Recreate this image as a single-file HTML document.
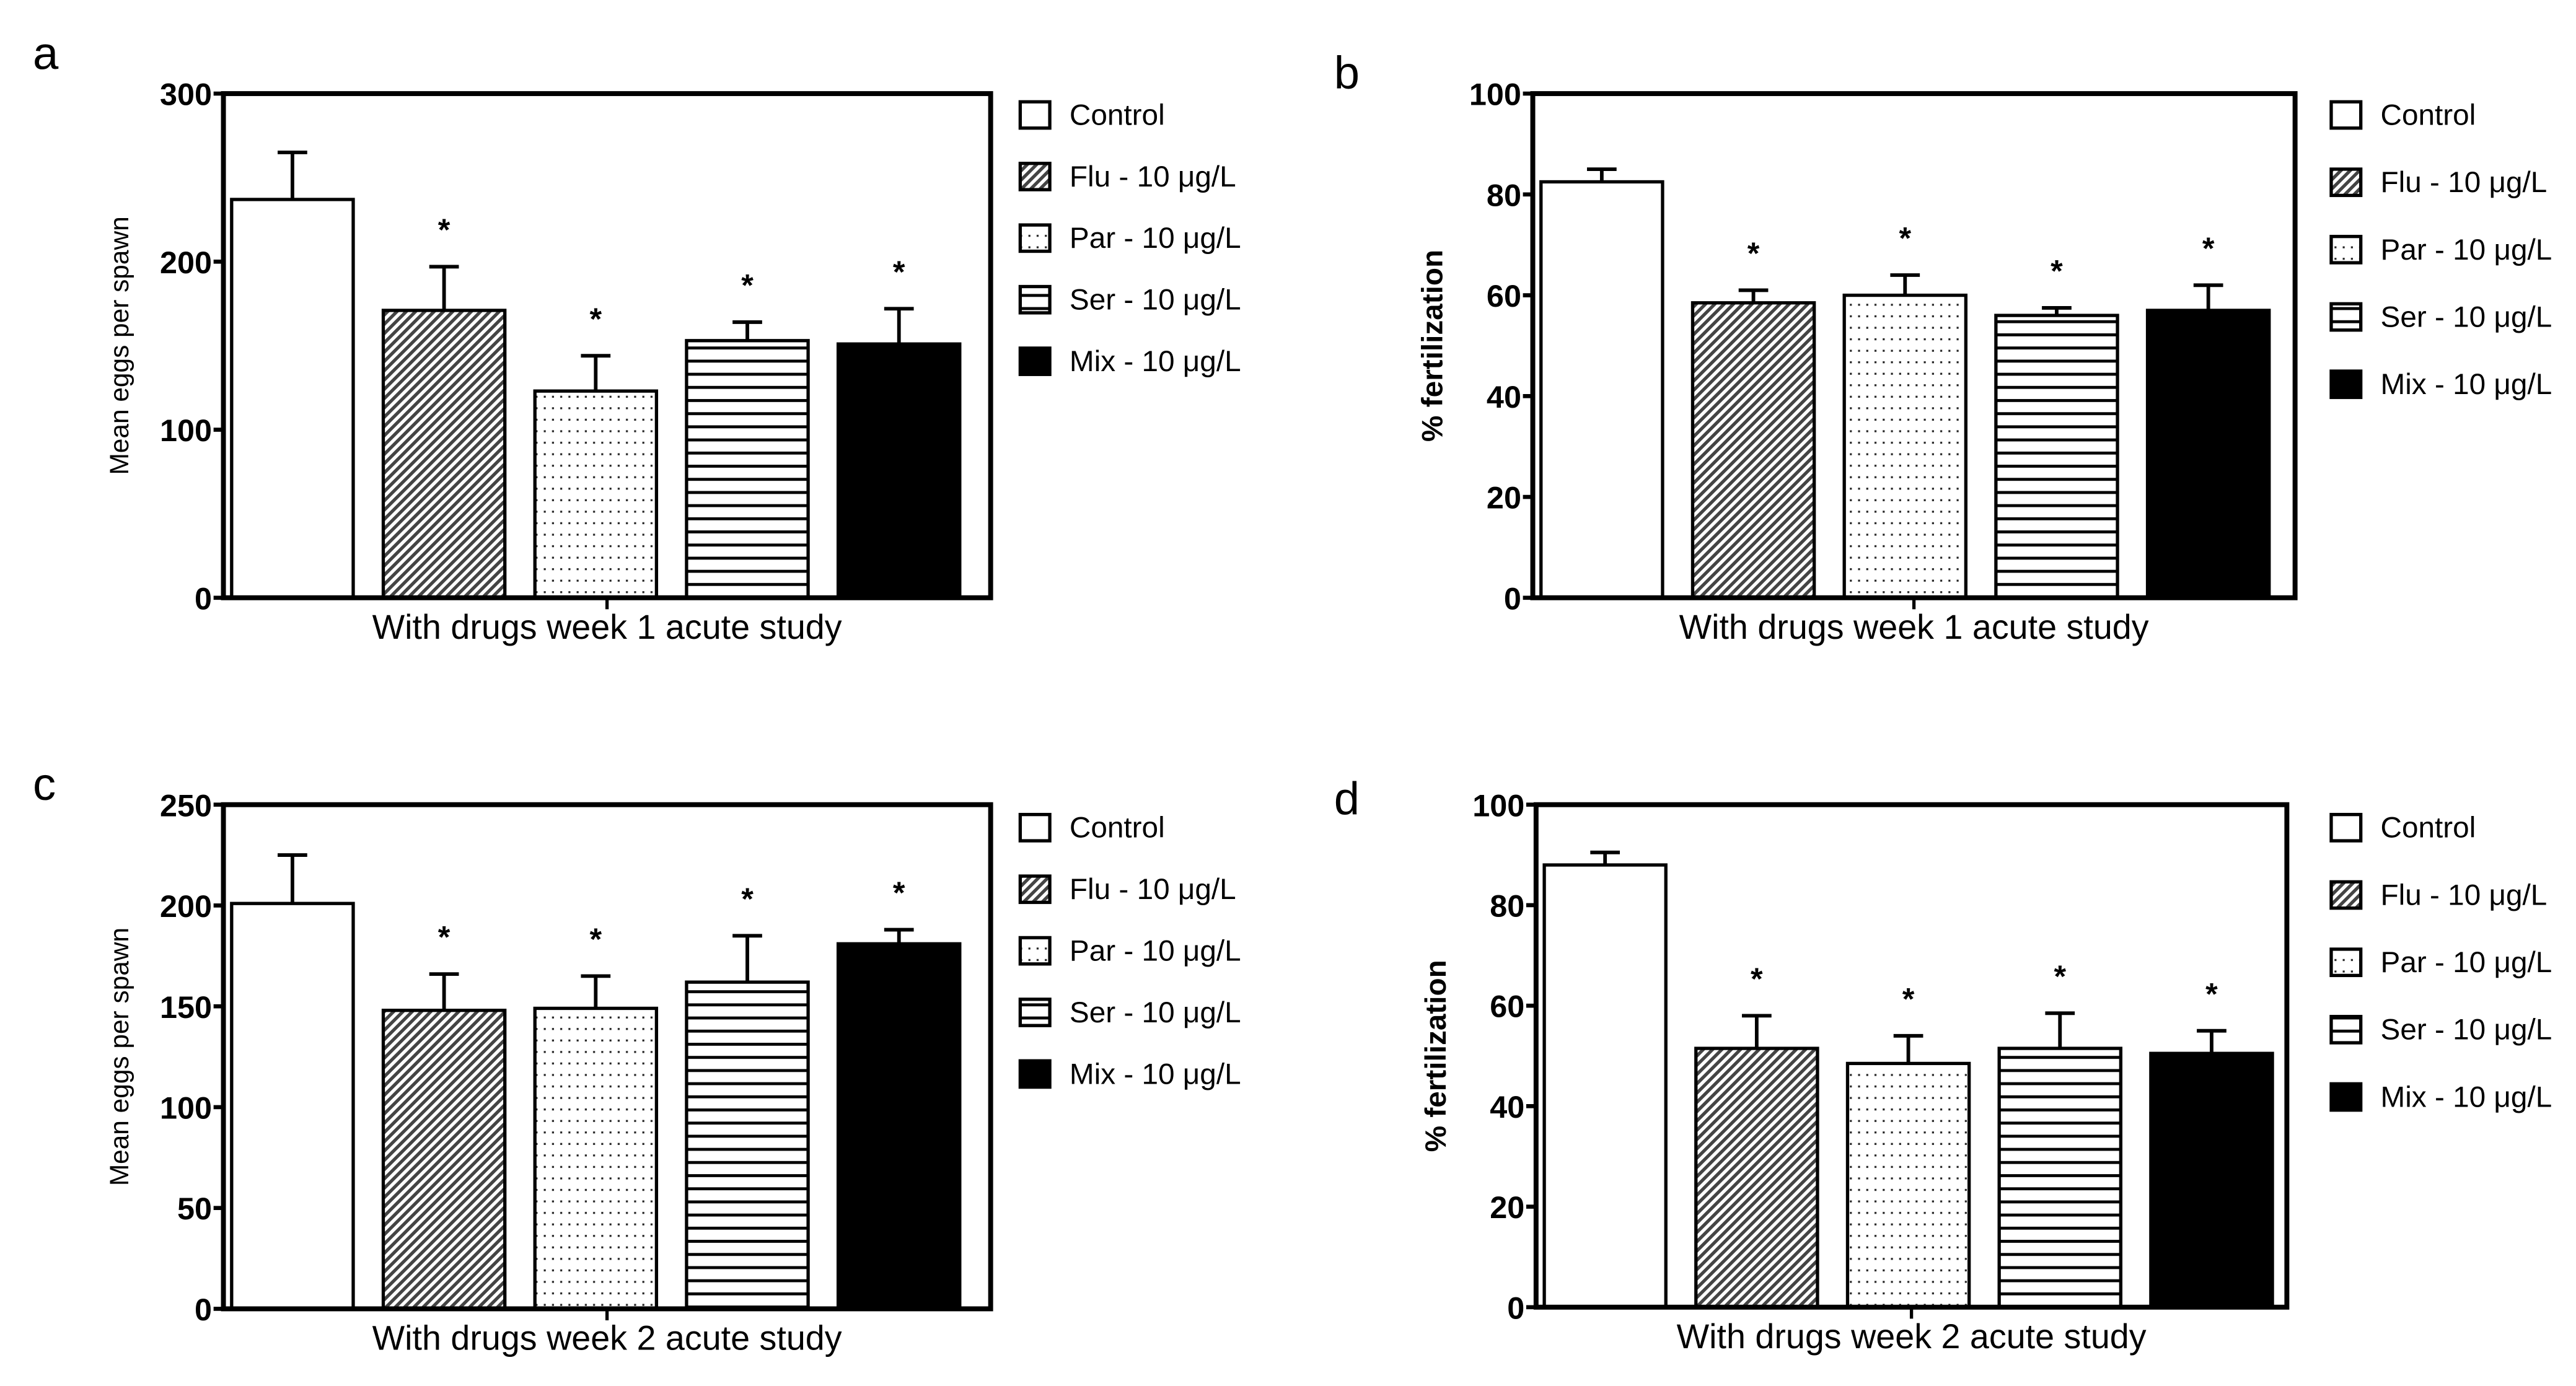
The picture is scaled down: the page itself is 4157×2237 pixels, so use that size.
<!DOCTYPE html>
<html><head><meta charset="utf-8"><style>
html,body{margin:0;padding:0;background:#fff;}
svg{display:block;}
.tick{font-family:"Liberation Sans Narrow","Liberation Sans",sans-serif;font-weight:bold;font-size:19px;}
.leg{font-family:"Liberation Sans",sans-serif;font-size:18px;}
.xl{font-family:"Liberation Sans",sans-serif;font-size:21px;}
.pl{font-family:"Liberation Sans",sans-serif;font-size:28px;}
</style></head><body>
<svg id="fig" width="4157" height="2237" viewBox="0 0 1568 844" preserveAspectRatio="none" xmlns="http://www.w3.org/2000/svg">
<defs>
<pattern id="hatch" patternUnits="userSpaceOnUse" width="4" height="4" patternTransform="rotate(-45)">
<rect width="4" height="4" fill="#fff"/><rect width="4" height="2" fill="#444"/></pattern>
<pattern id="dots" patternUnits="userSpaceOnUse" width="5" height="7">
<rect width="5" height="7" fill="#fff"/><rect x="1" y="3" width="1.2" height="1.2" fill="#222"/></pattern>
<pattern id="hlines" patternUnits="userSpaceOnUse" width="6" height="8">
<rect width="6" height="8" fill="#fff"/><rect y="3" width="6" height="1.8" fill="#000"/></pattern>
</defs>
</svg>
<script>
const categories = ["Control","Flu - 10 μg/L","Par - 10 μg/L","Ser - 10 μg/L","Mix - 10 μg/L"];
const fills = ["#fff","url(#hatch)","url(#dots)","url(#hlines)","#000"];
const valuesA = [237,171,123,153,151];
const errA = [265,197,144,164,172];
const sigA = [false,true,true,true,true];
const ticksA = [0,100,200,300];
const valuesB = [82.5,58.5,60,56,57];
const errB = [85,61,64,57.5,62];
const sigB = [false,true,true,true,true];
const ticksB = [0,20,40,60,80,100];
const valuesC = [201,148,149,162,181];
const errC = [225,166,165,185,188];
const sigC = [false,true,true,true,true];
const ticksC = [0,50,100,150,200,250];
const valuesD = [88,51.5,48.5,51.5,50.5];
const errD = [90.5,58,54,58.5,55];
const sigD = [false,true,true,true,true];
const ticksD = [0,20,40,60,80,100];

const NS="http://www.w3.org/2000/svg";
const svg=document.getElementById('fig');
function mk(tag,attrs,parent){const e=document.createElementNS(NS,tag);for(const k in attrs)e.setAttribute(k,attrs[k]);(parent||svg).appendChild(e);return e;}

function panel(cfg){
  const g=mk('g',{});
  
  
  const x0=cfg.x0,x1=cfg.x1,y0=cfg.y0,y1=cfg.y1;
  const ymax=cfg.ticks[cfg.ticks.length-1];
  const yS=v=>y1-(v/ymax)*(y1-y0);
  const bw=74, pitch=92.3;
  const xS=i=>x0+5+i*pitch;
  const lt=mk('text',{x:cfg.lx,y:cfg.ly,class:'pl'},g);lt.textContent=cfg.letter;
  
  
  cfg.values.forEach((v,i)=>{
    const bx=xS(i), cx=bx+bw/2;
    const eb=mk('path',{d:`M${cx} ${yS(v)}V${yS(cfg.err[i])}M${cx-9} ${yS(cfg.err[i])}H${cx+9}`,stroke:'#000','stroke-width':2.2,fill:'none'},g);
    
    
    const r=mk('rect',{x:bx,y:yS(v),width:bw,height:y1-yS(v),fill:fills[i],stroke:'#000','stroke-width':2},g);
    
    
    if(cfg.sig[i]){const s=mk('text',{x:cx,y:yS(cfg.err[i])-16,'text-anchor':'middle',class:'tick','font-size':18},g);s.textContent='*';
      
      }
  });
  const box=mk('rect',{x:x0,y:y0,width:x1-x0,height:y1-y0,fill:'none',stroke:'#000','stroke-width':3},g);
  
  
  mk('line',{x1:(x0+x1)/2,y1:y1,x2:(x0+x1)/2,y2:y1+7,stroke:'#000','stroke-width':2},g);
  cfg.ticks.forEach(t=>{
    mk('line',{x1:x0-6,y1:yS(t),x2:x0,y2:yS(t),stroke:'#000','stroke-width':2.5},g);
    const tl=mk('text',{x:x0-7,y:yS(t)+7,'text-anchor':'end',class:'tick'},g);tl.textContent=t;
    
    
  });
  const yl=mk('text',{x:0,y:0,transform:`translate(${cfg.ylx},${(y0+y1)/2}) rotate(-90)`,'text-anchor':'middle','font-family':'"Liberation Sans",sans-serif','font-size':cfg.ylBold?18:16,'font-weight':cfg.ylBold?'bold':'normal'},g);
  yl.textContent=cfg.ylabel;
  
  
  const xl=mk('text',{x:(x0+x1)/2,y:y1+25,'text-anchor':'middle',class:'xl'},g);xl.textContent=cfg.xlabel;
  
  
  categories.forEach((c,i)=>{
    const yy=cfg.legY+i*cfg.legGap;
    const lg=mk('g',{},g);
    
    
    mk('rect',{x:cfg.legX,y:yy-8,width:18,height:16,fill:fills[i],stroke:'#000','stroke-width':2},lg);
    const t=mk('text',{x:cfg.legX+30,y:yy+6,class:'leg'},lg);t.textContent=c;
  });
}
panel({letter:'a',lx:20,ly:42,x0:136,x1:603,y0:57,y1:364,values:valuesA,err:errA,sig:sigA,ticks:ticksA,ylabel:'Mean eggs per spawn',ylx:78,ylBold:false,xlabel:'With drugs week 1 acute study',legX:621,legY:70,legGap:37.5});
panel({letter:'b',lx:812,ly:54,x0:933,x1:1397,y0:57,y1:364,values:valuesB,err:errB,sig:sigB,ticks:ticksB,ylabel:'% fertilization',ylx:878,ylBold:true,xlabel:'With drugs week 1 acute study',legX:1419,legY:70,legGap:41});
panel({letter:'c',lx:20,ly:487,x0:136,x1:603,y0:490,y1:797,values:valuesC,err:errC,sig:sigC,ticks:ticksC,ylabel:'Mean eggs per spawn',ylx:78,ylBold:false,xlabel:'With drugs week 2 acute study',legX:621,legY:504,legGap:37.5});
panel({letter:'d',lx:812,ly:496,x0:935,x1:1392,y0:490,y1:796,values:valuesD,err:errD,sig:sigD,ticks:ticksD,ylabel:'% fertilization',ylx:880,ylBold:true,xlabel:'With drugs week 2 acute study',legX:1419,legY:504,legGap:41});
</script>
</body></html>
